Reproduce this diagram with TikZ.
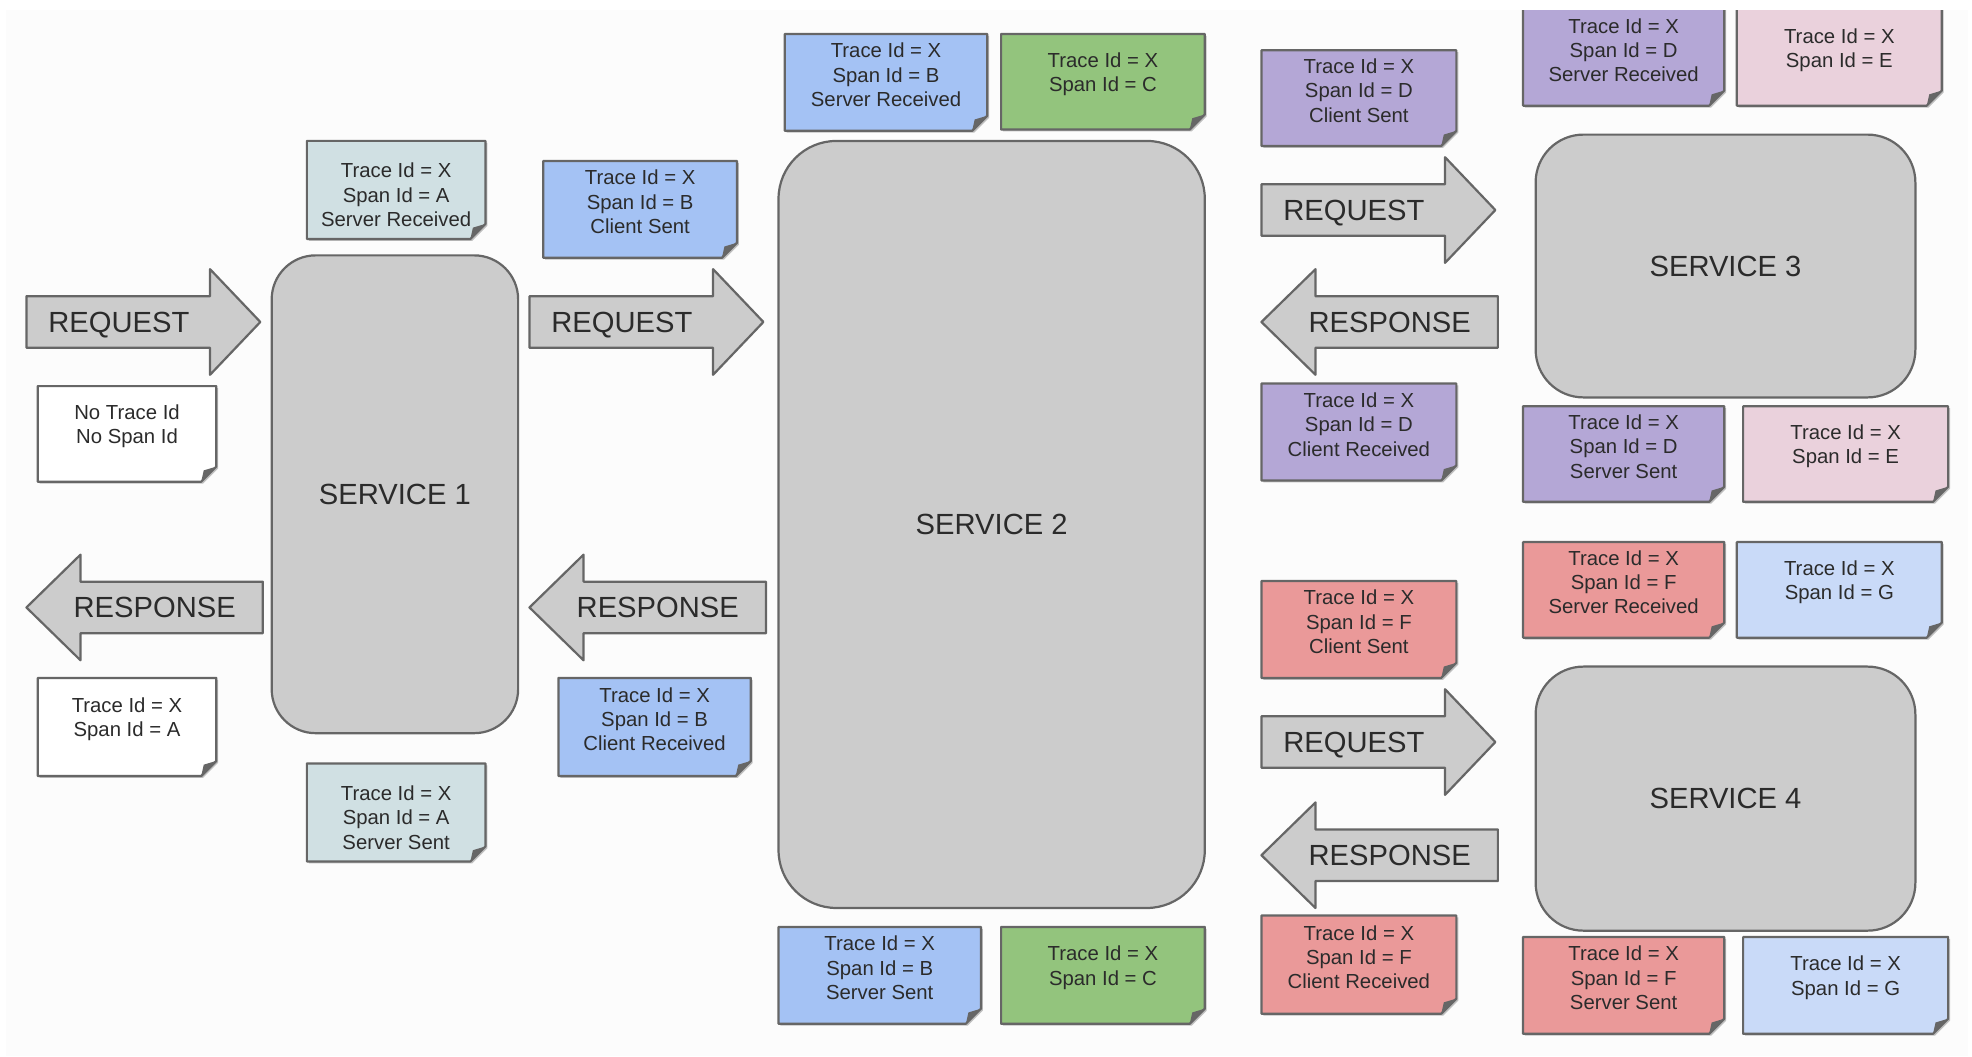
\documentclass[tikz,border=0pt]{standalone}
\usepackage{fontspec}
\setmainfont{Liberation Sans}
\definecolor{edge}{HTML}{666666}
\definecolor{boxgrey}{HTML}{CCCCCC}
\definecolor{spanA}{HTML}{D0E0E3}
\definecolor{spanB}{HTML}{A4C2F4}
\definecolor{spanC}{HTML}{93C47D}
\definecolor{spanD}{HTML}{B4A7D6}
\definecolor{spanE}{HTML}{EAD1DC}
\definecolor{spanF}{HTML}{EA9999}
\definecolor{spanG}{HTML}{C9DAF8}
\definecolor{inkgrey}{HTML}{2B2B2B}
\definecolor{paper}{HTML}{FCFCFC}
% sticky note: [text shift]{name}{x1}{y1}{x2}{y2}{colour}{text}
\newcommand{\stickynote}[8][-6]{%
  \fill[black!25] (#3+1.5,#4+1.5) -- (#5+1.5,#4+1.5) -- (#5+1.5,#6-10.5) -- (#5-10.5,#6+1.5) -- (#3+1.5,#6+1.5) -- cycle;
  \filldraw[notebox, fill=#7] (#3,#4) -- (#5,#4) -- (#5,#6-12) -- (#5-12,#6) -- (#3,#6) -- cycle;
  \fill[edge] (#5,#6-12) -- (#5-12,#6) -- (#5-10,#6-9) -- cycle;
  \node[notetext] (#2) at ({(#3+#5)/2},{(#4+#6)/2+(#1)}) {#8};
}
\begin{document}
\begin{tikzpicture}[x=0.02cm, y=-0.02cm, line join=round,
  service/.style={draw=edge, fill=boxgrey, line width=1pt, text=inkgrey, font=\fontsize{13.2}{15}\selectfont},
  bigarrow/.style={draw=edge, fill=boxgrey, line width=1pt},
  arrowlabel/.style={text=inkgrey, inner sep=0pt, text depth=0pt, font=\fontsize{13.2}{15}\selectfont},
  notebox/.style={draw=edge, line width=1pt},
  notetext/.style={align=center, inner sep=0pt, text=inkgrey, font=\fontsize{9.2}{11}\selectfont}]
	\useasboundingbox (0,0) rectangle (1568,840);
	\fill[white] (0,0) rectangle (1568,840);
	\fill[paper] (5,8) rectangle (1565,840);
	\begin{scope}
	\clip (5,8) rectangle (1568,840);
	% services
	\node[service, rounded corners=0.7cm, minimum width=3.92cm, minimum height=7.6cm] (s1) at (314,393) {SERVICE 1};
	\node[service, rounded corners=0.92cm, minimum width=6.78cm, minimum height=12.2cm] (s2) at (788.5,417) {SERVICE 2};
	\node[service, rounded corners=0.76cm, minimum width=6.04cm, minimum height=4.18cm] (s3) at (1372,211.5) {SERVICE 3};
	\node[service, rounded corners=0.76cm, minimum width=6.04cm, minimum height=4.2cm] (s4) at (1372,635) {SERVICE 4};
	% request arrows
	\foreach \x/\y/\n in {21/256/req1, 421/256/req2, 1003/167/req3, 1003/590/req4}{
		\draw[bigarrow] (\x,\y-20.5) -- (\x+146,\y-20.5) -- (\x+146,\y-42) -- (\x+186,\y)
			-- (\x+146,\y+42) -- (\x+146,\y+20.5) -- (\x,\y+20.5) -- cycle;
		\node[arrowlabel] (\n) at (\x+73.5,\y) {REQUEST};
	}
	% response arrows
	\foreach \x/\y/\n in {21/483/resp1, 421/483/resp2, 1003/256/resp3, 1003/680/resp4}{
		\draw[bigarrow] (\x,\y) -- (\x+43,\y-42) -- (\x+43,\y-20.5) -- (\x+188,\y-20.5)
			-- (\x+188,\y+20.5) -- (\x+43,\y+20.5) -- (\x+43,\y+42) -- cycle;
		\node[arrowlabel] (\n) at (\x+102,\y) {RESPONSE};
	}
	% notes
	\stickynote{noid}{30}{307}{172}{383}{white}{No Trace Id\\No Span Id}
	\stickynote{aback}{30}{539}{172}{617}{white}{Trace Id = X\\Span Id = A}
	\stickynote[4]{asr}{244}{112}{386}{190}{spanA}{Trace Id = X\\Span Id = A\\Server Received}
	\stickynote[4]{ass}{244}{607}{386}{685}{spanA}{Trace Id = X\\Span Id = A\\Server Sent}
	\stickynote{bcs}{432}{128}{586}{205}{spanB}{Trace Id = X\\Span Id = B\\Client Sent}
	\stickynote{bcr}{444}{539}{597}{617}{spanB}{Trace Id = X\\Span Id = B\\Client Received}
	\stickynote{bsr}{624}{27}{785}{104}{spanB}{Trace Id = X\\Span Id = B\\Server Received}
	\stickynote{bss}{619}{737}{780}{814}{spanB}{Trace Id = X\\Span Id = B\\Server Sent}
	\stickynote{ctop}{796}{27}{958}{103}{spanC}{Trace Id = X\\Span Id = C}
	\stickynote{cbot}{796}{737}{958}{814}{spanC}{Trace Id = X\\Span Id = C}
	\stickynote{dcs}{1003}{40}{1158}{116}{spanD}{Trace Id = X\\Span Id = D\\Client Sent}
	\stickynote{dcr}{1003}{305}{1158}{382}{spanD}{Trace Id = X\\Span Id = D\\Client Received}
	\stickynote[-3]{dsr}{1211}{2}{1371}{84}{spanD}{Trace Id = X\\Span Id = D\\Server Received}
	\stickynote{dss}{1211}{323}{1371}{399}{spanD}{Trace Id = X\\Span Id = D\\Server Sent}
	\stickynote[-3]{etop}{1381}{2}{1544}{84}{spanE}{Trace Id = X\\Span Id = E}
	\stickynote{ebot}{1386}{323}{1549}{399}{spanE}{Trace Id = X\\Span Id = E}
	\stickynote{fcs}{1003}{462}{1158}{539}{spanF}{Trace Id = X\\Span Id = F\\Client Sent}
	\stickynote{fcr}{1003}{728}{1158}{806}{spanF}{Trace Id = X\\Span Id = F\\Client Received}
	\stickynote{fsr}{1211}{431}{1371}{507}{spanF}{Trace Id = X\\Span Id = F\\Server Received}
	\stickynote{fss}{1211}{745}{1371}{822}{spanF}{Trace Id = X\\Span Id = F\\Server Sent}
	\stickynote{gtop}{1381}{431}{1544}{507}{spanG}{Trace Id = X\\Span Id = G}
	\stickynote{gbot}{1386}{745}{1549}{822}{spanG}{Trace Id = X\\Span Id = G}
	\end{scope}
\end{tikzpicture}
\end{document}
